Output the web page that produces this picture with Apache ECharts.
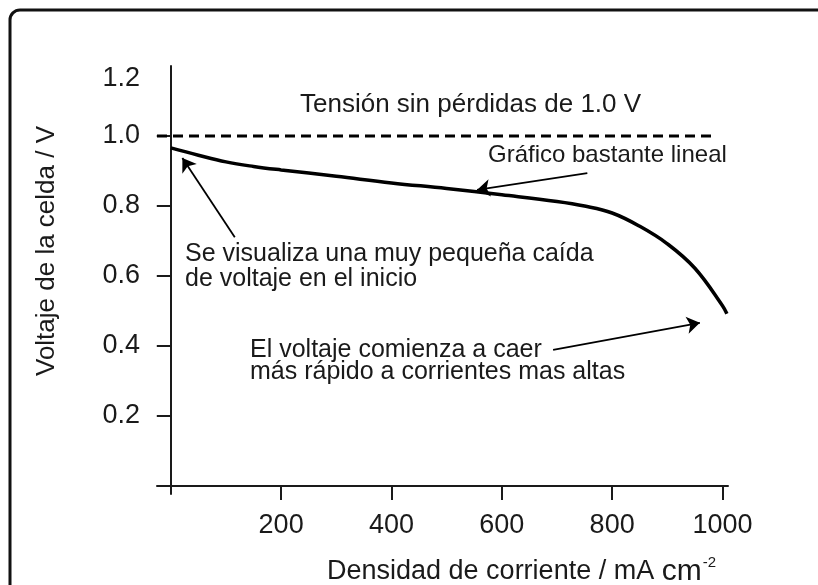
<!DOCTYPE html>
<html>
<head>
<meta charset="utf-8">
<script src="https://cdn.jsdelivr.net/npm/echarts@6/dist/echarts.min.js"></script>
<style>
  html, body { margin: 0; padding: 0; background: #fff; }
  #chart { width: 818px; height: 585px; }
</style>
</head>
<body>
<div id="chart"></div>
<script>
// curve: current density (mA cm-2) vs cell voltage (V)
const current = [0, 50, 100, 150, 200, 300, 400, 500, 600, 700, 750, 800, 850, 900, 950, 1000, 1008];
const voltage = [0.966, 0.945, 0.926, 0.913, 0.903, 0.885, 0.866, 0.850, 0.832, 0.813, 0.800, 0.780, 0.742, 0.692, 0.622, 0.515, 0.492];

// 1.0 V no-loss line
const lossless = [[-25, 1.0], [990, 1.0]];

const xTicks = [200, 400, 600, 800, 1000];
const yTicks = [0.2, 0.4, 0.6, 0.8, 1.0];
const yLabels = [0.2, 0.4, 0.6, 0.8, 1.0, 1.2];

// annotation arrows [from, to] in data units
const arrows = [
  [[116, 0.711], [21, 0.937]],
  [[755, 0.894], [555, 0.846]],
  [[693, 0.389], [959, 0.466]]
];

const ink = '#1a1a1a';
const font = 'Liberation Sans, Arial, sans-serif';

const chart = echarts.init(document.getElementById('chart'));

chart.setOption({
  animation: false,
  backgroundColor: '#fff',
  grid: { left: 157, right: 90, top: 66, bottom: 91 },
  xAxis: {
    type: 'value',
    min: -25,
    max: 1010,
    splitLine: { show: false },
    axisLine: { onZero: true, lineStyle: { color: ink, width: 2 } },
    axisTick: { customValues: xTicks, length: 14, lineStyle: { color: ink, width: 2 } },
    axisLabel: {
      customValues: xTicks,
      margin: 18,
      color: ink,
      fontFamily: font,
      fontSize: 27,
      formatter: v => String(v)
    }
  },
  yAxis: {
    type: 'value',
    min: -0.023,
    max: 1.2,
    splitLine: { show: false },
    axisLine: { onZero: true, lineStyle: { color: ink, width: 2 } },
    axisTick: { customValues: yTicks, length: 14, lineStyle: { color: ink, width: 2 } },
    axisLabel: {
      customValues: yLabels,
      margin: 17,
      color: ink,
      fontFamily: font,
      fontSize: 27,
      formatter: function (v) {
        const s = v.toFixed(1);
        return v > 1.1 ? '{top|' + s + '}' : s;
      },
      rich: {
        top: { fontFamily: font, fontSize: 27, color: ink, padding: [26, 0, 0, 0] }
      }
    }
  },
  series: [
    {
      type: 'line',
      data: current.map((c, i) => [c, voltage[i]]),
      smooth: 0.4,
      symbol: 'none',
      lineStyle: { color: '#000', width: 3.5 },
      silent: true
    },
    {
      type: 'line',
      data: lossless,
      symbol: 'none',
      lineStyle: { color: '#000', width: 3, type: [10, 6] },
      silent: true,
      markLine: {
        silent: true,
        symbol: ['none', 'arrow'],
        symbolSize: 13,
        label: { show: false },
        lineStyle: { color: '#000', width: 1.8, type: 'solid' },
        emphasis: { disabled: true },
        data: arrows.map(a => [{ coord: a[0] }, { coord: a[1] }])
      }
    }
  ],
  graphic: [
    {
      type: 'rect',
      shape: { x: 10, y: 10, width: 1000, height: 800, r: 10 },
      style: { fill: 'none', stroke: '#111', lineWidth: 3 },
      silent: true
    },
    {
      type: 'text',
      x: 47, y: 251,
      rotation: Math.PI / 2,
      style: {
        text: 'Voltaje de la celda / V',
        fill: ink, font: '26px ' + font,
        textAlign: 'center', textVerticalAlign: 'middle'
      }
    },
    {
      type: 'text',
      x: 327, y: 572,
      style: {
        text: '{a|Densidad de corriente / mA }{b|cm}{c|-2}',
        textVerticalAlign: 'middle',
        rich: {
          a: { fontFamily: font, fontSize: 27, fill: ink },
          b: { fontFamily: font, fontSize: 30, fill: ink },
          c: { fontFamily: font, fontSize: 15, fill: ink, padding: [0, 0, 18, 1] }
        }
      }
    },
    {
      type: 'text', x: 300, y: 105,
      style: { text: 'Tensión sin pérdidas de 1.0 V', fill: ink, font: '26px ' + font, textVerticalAlign: 'middle' }
    },
    {
      type: 'text', x: 488, y: 155,
      style: { text: 'Gráfico bastante lineal', fill: ink, font: '24px ' + font, textVerticalAlign: 'middle' }
    },
    {
      type: 'text', x: 185, y: 267,
      style: {
        text: 'Se visualiza una muy pequeña caída\nde voltaje en el inicio',
        fill: ink, font: '25px ' + font, lineHeight: 25, textVerticalAlign: 'middle'
      }
    },
    {
      type: 'text', x: 250, y: 361,
      style: {
        text: 'El voltaje comienza a caer\nmás rápido a corrientes mas altas',
        fill: ink, font: '25px ' + font, lineHeight: 22, textVerticalAlign: 'middle'
      }
    }
  ]
});
</script>
</body>
</html>
